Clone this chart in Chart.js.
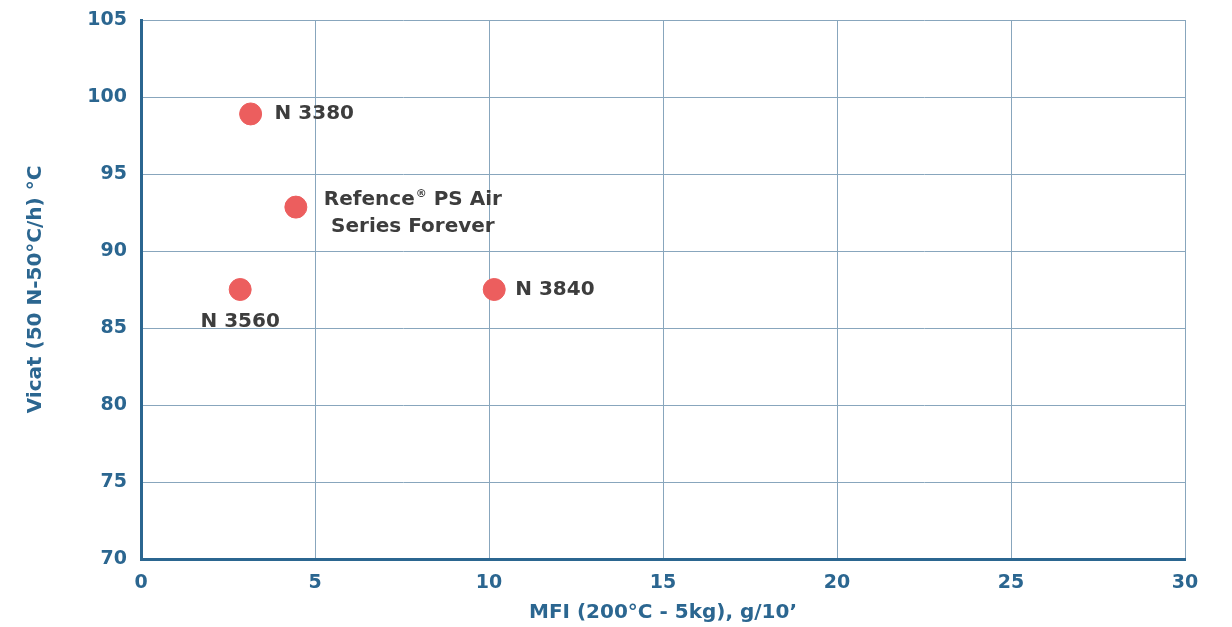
<!DOCTYPE html>
<html>
<head>
<meta charset="utf-8">
<script src="https://cdn.jsdelivr.net/npm/chart.js@4/dist/chart.umd.min.js"></script>
<style>
html,body{margin:0;padding:0;background:#fff;}
#wrap{width:1232px;height:627px;position:relative;}
</style>
</head>
<body>
<div id="wrap"><canvas id="c" width="1232" height="627"></canvas></div>
<script>
const productNames = ["N 3380", "Refence® PS Air Series Forever", "N 3560", "N 3840"];
const mfiValues = [3.15, 4.45, 2.85, 10.15];
const vicatValues = [98.9, 92.85, 87.5, 87.5];
const xTicks = [0, 5, 10, 15, 20, 25, 30];
const yTicks = [70, 75, 80, 85, 90, 95, 100, 105];

const blue = '#2b6690';
const gridColor = '#88a6bd';
const labelColor = '#3d3d3d';
const fontFamily = '"DejaVu Sans", "Open Sans", sans-serif';

// label placement styles (relative offsets from point)
const labelPlacement = [
  {dx: 24, dy: 0, align: 'left'},
  {dx: 28, dy: -7, align: 'left'},
  {dx: 0, dy: 32, align: 'center'},
  {dx: 21, dy: 0, align: 'left'}
];

const points = mfiValues.map((x, i) => ({x: x, y: vicatValues[i]}));

const labelPlugin = {
  id: 'pointLabels',
  afterDatasetsDraw(chart) {
    const ctx = chart.ctx;
    const meta = chart.getDatasetMeta(0);
    ctx.save();
    ctx.fillStyle = labelColor;
    ctx.textBaseline = 'middle';
    const big = 'bold 20px ' + fontFamily;
    const small = 'bold 11px ' + fontFamily;
    meta.data.forEach((el, i) => {
      const p = labelPlacement[i];
      const x = el.x + p.dx, y = el.y + p.dy;
      ctx.font = big;
      if (i === 1) {
        const part1 = 'Refence';
        const part2 = ' PS Air';
        const line2 = 'Series Forever';
        ctx.textAlign = 'left';
        const w1 = ctx.measureText(part1).width;
        ctx.font = small;
        const wr = ctx.measureText('®').width + 1;
        ctx.font = big;
        const w2 = ctx.measureText(part2).width;
        const total = w1 + wr + w2;
        ctx.fillText(part1, x, y);
        ctx.font = small;
        ctx.fillText('®', x + w1 + 1, y - 6);
        ctx.font = big;
        ctx.fillText(part2, x + w1 + wr, y);
        ctx.textAlign = 'center';
        ctx.fillText(line2, x + total / 2, y + 27);
      } else {
        ctx.textAlign = p.align;
        ctx.fillText(productNames[i], x, y);
      }
    });
    ctx.restore();
  }
};

new Chart(document.getElementById('c'), {
  type: 'scatter',
  data: {
    datasets: [{
      data: points,
      backgroundColor: '#ec5e5e',
      borderColor: '#ec5e5e',
      pointRadius: 11,
      pointHoverRadius: 11
    }]
  },
  options: {
    responsive: false,
    animation: false,
    layout: {padding: {top: 20, right: 47, left: 0, bottom: 0}},
    plugins: {legend: {display: false}, tooltip: {enabled: false}},
    scales: {
      x: {
        type: 'linear',
        min: xTicks[0], max: xTicks[xTicks.length - 1],
        afterBuildTicks: (s) => { s.ticks = xTicks.map(v => ({value: v})); },
        afterFit: (s) => { s.height = 68; s.paddingLeft = 0; s.paddingRight = 0; },
        grid: {color: gridColor, lineWidth: 1, drawTicks: false},
        border: {color: blue, width: 3},
        ticks: {color: blue, padding: 13, font: {family: fontFamily, size: 19, weight: 'bold'}},
        title: {display: true, text: 'MFI (200°C - 5kg), g/10’', color: blue, padding: {top: 6, bottom: 2},
          font: {family: fontFamily, size: 20, weight: 'bold'}}
      },
      y: {
        type: 'linear',
        min: yTicks[0], max: yTicks[yTicks.length - 1],
        afterBuildTicks: (s) => { s.ticks = yTicks.map(v => ({value: v})); },
        afterFit: (s) => { s.width = 141; s.paddingTop = 0; s.paddingBottom = 0; },
        grid: {color: gridColor, lineWidth: 1, drawTicks: false},
        border: {color: blue, width: 3},
        ticks: {color: blue, padding: 14, font: {family: fontFamily, size: 19, weight: 'bold'}},
        title: {display: true, text: 'Vicat (50 N-50°C/h) °C', color: blue, padding: {top: 24, bottom: 0},
          font: {family: fontFamily, size: 20, weight: 'bold'}}
      }
    }
  },
  plugins: [labelPlugin]
});
</script>
</body>
</html>
